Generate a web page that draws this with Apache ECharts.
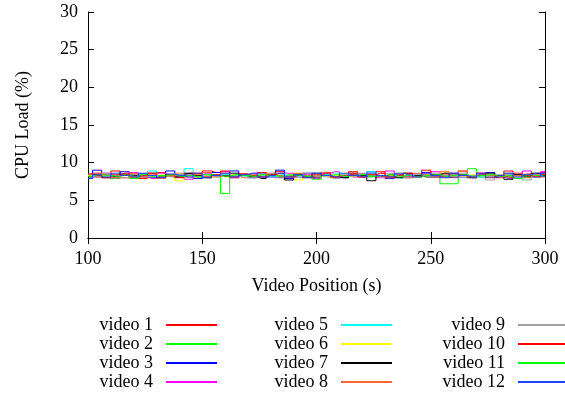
<!DOCTYPE html>
<html>
<head>
<meta charset="utf-8">
<script src="https://cdn.jsdelivr.net/npm/echarts@6/dist/echarts.min.js"></script>
<style>
  html, body { margin: 0; padding: 0; background: #fff; }
  #chart { width: 565px; height: 398px; }
</style>
</head>
<body>
<div id="chart"></div>
<script>
// Playback position (s) of each CPU sample
const positions = [100,104,108,112,116,120,124,128,132,136,140,144,148,152,156,160,164,168,172,176,
  180,184,188,192,196,200,204,208,212,216,220,224,228,232,236,240,244,248,252,256,
  260,264,268,272,276,280,284,288,292,296,300];

// CPU load (%) per video
const video1 = [8.2,8.6,8.3,8.9,8.0,8.5,7.9,8.3,8.7,8.2, 8.4,8.6,8.1,8.9,8.7,8.3,8.0,8.5,8.2,8.7,
  8.3,8.8,8.1,8.5,8.3,8.0,8.7,8.3,8.1,8.8, 8.5,8.2,8.8,8.1,8.5,8.0,8.4,8.7,8.1,8.5,
  8.3,8.9,8.1,8.5,8.3,8.0,8.9,8.3,8.5,8.2, 8.7];
const video2 = [8.3,8.1,8.2,7.9,8.4,8.2,8.3,8.0,8.2,8.4, 8.1,8.3,8.2,8.0,8.3,5.9,8.2,8.4,8.1,8.3,
  8.2,8.0,8.3,8.5,8.2,8.1,8.4,8.0,8.3,8.2, 8.4,8.1,8.3,8.2,8.0,8.3,8.2,8.4,8.1,7.2,
  7.2,8.3,9.2,8.1,8.4,8.2,8.0,8.3,8.2,8.4, 8.3];
const video3 = [7.9,9.0,8.4,8.1,8.8,8.0,8.5,8.1,8.3,8.9, 8.1,8.5,7.9,8.3,8.7,8.2,8.9,8.4,8.0,8.5,
  8.1,9.0,7.9,8.3,8.6,8.1,8.7,8.3,8.0,8.5, 8.1,8.8,8.3,7.9,8.5,8.2,8.3,8.7,8.1,8.3,
  8.6,8.1,8.0,8.4,8.7,8.1,8.5,7.9,8.4,8.1, 8.6];
const video4 = [8.4,8.1,8.6,8.0,8.3,8.7,8.1,7.9,8.6,8.3, 8.1,7.8,8.4,8.6,8.2,8.8,8.0,8.4,8.6,8.1,
  8.3,8.0,8.6,8.1,8.4,7.9,8.6,8.8,8.3,8.1, 8.5,8.3,8.0,8.9,8.3,8.1,8.5,8.3,8.8,8.1,
  8.0,8.4,8.2,8.6,8.3,8.1,7.9,8.4,8.9,8.5, 8.8];
const video5 = [8.4,8.3,8.2,8.4,8.3,8.1,8.3,8.9,8.2,8.3, 8.4,9.2,8.2,8.3,8.1,8.4,8.3,8.2,8.5,8.3,
  8.2,8.4,8.3,8.1,8.3,8.2,8.4,8.6,8.2,8.3, 8.4,8.8,8.3,8.2,8.0,8.3,8.4,8.2,8.3,8.1,
  8.4,8.3,8.2,8.0,8.4,8.3,8.2,8.4,8.3,8.1, 8.3];
const video6 = [8.3,8.4,8.2,8.3,8.4,8.1,8.3,8.2,8.4,8.3, 7.6,8.3,8.4,8.2,8.3,8.1,8.4,8.3,8.2,8.4,
  8.3,8.2,8.4,7.7,8.3,8.4,8.2,8.3,8.5,8.2, 8.3,8.4,8.2,8.3,8.6,8.4,8.2,8.3,8.4,8.8,
  8.3,8.2,8.4,8.3,8.2,8.4,8.3,8.2,8.4,8.3, 8.2];
const video7 = [8.1,8.4,8.0,8.2,8.5,8.3,8.1,8.6,8.0,8.4, 8.1,8.6,8.3,8.0,8.4,8.2,8.6,8.3,8.1,7.9,
  8.4,8.2,7.7,8.4,8.1,8.6,8.3,8.1,8.0,8.6, 8.3,7.6,8.2,8.4,8.0,8.6,8.3,8.1,8.4,8.6,
  8.1,8.4,8.0,8.3,8.6,8.2,7.8,8.4,8.1,8.6, 8.3];
const video8 = [8.5,8.1,8.4,8.0,8.3,8.6,8.1,8.4,7.9,8.3, 8.6,8.1,8.4,8.7,8.1,8.6,8.2,8.0,8.4,8.1,
  8.6,8.3,8.1,8.6,8.3,8.1,8.7,8.0,8.3,8.6, 8.1,8.4,8.6,8.0,8.3,8.1,8.6,8.4,8.1,8.8,
  8.3,8.8,8.1,8.5,8.3,8.1,8.6,8.3,8.0,8.4, 8.1];
const video9 = [8.4,8.1,8.6,8.3,8.0,8.4,8.1,8.6,8.3,8.1, 8.4,8.0,8.6,8.2,8.4,8.6,8.1,8.3,8.0,8.4,
  8.6,8.1,8.3,8.0,8.6,8.3,8.1,7.9,8.4,8.2, 8.6,8.3,8.1,8.6,8.3,8.0,8.4,8.2,8.6,8.3,
  8.1,8.6,8.3,8.1,7.7,8.4,8.6,8.1,7.7,8.3, 8.5];
const video10 = [8.5,8.3,8.0,8.4,8.6,8.1,8.3,8.6,8.1,8.4, 8.0,8.3,8.6,8.1,8.4,8.9,8.1,8.5,8.3,8.1,
  8.4,8.6,8.1,8.3,8.0,8.4,8.6,8.1,8.3,8.5, 8.1,8.4,8.6,8.1,8.3,8.6,8.1,9.0,8.3,8.1,
  8.5,8.3,8.1,8.6,8.0,8.3,8.1,8.6,8.3,8.1, 8.4];
const video11 = [8.2,8.4,8.3,8.2,8.3,7.9,8.4,8.2,8.3,8.4, 8.2,8.3,8.1,8.4,8.3,8.2,8.4,8.3,8.2,8.4,
  8.3,8.2,8.4,8.3,8.2,7.8,8.3,8.4,8.2,8.3, 8.4,8.2,8.3,8.4,8.2,8.3,8.1,8.3,8.4,8.2,
  8.3,8.4,8.2,8.3,8.4,8.2,8.3,7.9,8.4,8.3, 8.2];
const video12 = [7.9,8.4,8.1,8.6,8.3,8.1,8.6,8.3,8.0,8.5, 8.3,8.1,8.6,8.0,8.3,8.6,8.1,8.4,8.6,8.1,
  8.3,8.6,8.1,8.4,8.0,8.6,8.3,8.1,8.6,8.3, 8.1,8.6,8.3,8.1,8.6,8.4,8.1,8.6,8.3,8.0,
  8.6,8.3,8.1,8.6,8.1,8.3,8.6,8.1,8.4,8.6, 8.2];

const seriesNames = ['video 1','video 2','video 3','video 4','video 5','video 6',
  'video 7','video 8','video 9','video 10','video 11','video 12'];
const seriesValues = [video1, video2, video3, video4, video5, video6,
  video7, video8, video9, video10, video11, video12];
const seriesColors = ['#ff0000','#00ff00','#0000ff','#ff00ff','#00ffff','#ffff00',
  '#000000','#ff6633','#a0a0a0','#ff0000','#00ff00','#2040ff'];

const xTicks = { min: 100, max: 300, interval: 50 };
const yTicks = { min: 0, max: 30, interval: 5 };

const FONT = 'Liberation Serif';

const chart = echarts.init(document.getElementById('chart'), null, { renderer: 'canvas' });

const series = seriesNames.map((name, i) => ({
  name: name,
  type: 'line',
  step: 'middle',
  showSymbol: false,
  symbol: 'none',
  animation: false,
  color: seriesColors[i],
  itemStyle: { color: seriesColors[i] },
  lineStyle: { width: 1, color: seriesColors[i] },
  data: positions.map((p, k) => [p, seriesValues[i][k]])
}));

function legendBlock(names, right) {
  return {
    orient: 'vertical',
    right: right,
    top: 316,
    padding: 0,
    align: 'right',
    itemWidth: 51,
    itemHeight: 2,
    itemGap: 1,
    icon: 'rect',
    selectedMode: false,
    itemStyle: { borderWidth: 0 },
    textStyle: { fontFamily: FONT, fontSize: 18, color: '#000', lineHeight: 18, padding: [0, 8, 0, 0] },
    data: names
  };
}

const axisText = { fontFamily: FONT, fontSize: 18, color: '#000' };
const lineBlack = { show: true, lineStyle: { color: '#000', width: 1 } };
const tickIn = { show: true, inside: true, length: 6, lineStyle: { color: '#000', width: 1 } };

chart.setOption({
  backgroundColor: '#fff',
  animation: false,
  grid: { left: 88, right: 20, top: 12, bottom: 160 },
  legend: [
    legendBlock(seriesNames.slice(0, 4), 348),
    legendBlock(seriesNames.slice(4, 8), 173),
    legendBlock(seriesNames.slice(8, 12), -4)
  ],
  xAxis: [
    {
      type: 'value', position: 'bottom', min: xTicks.min, max: xTicks.max, interval: xTicks.interval,
      name: 'Video Position (s)', nameLocation: 'middle', nameGap: 39,
      nameTextStyle: axisText,
      axisLine: lineBlack, axisTick: tickIn,
      axisLabel: Object.assign({ margin: 12 }, axisText),
      splitLine: { show: false }
    },
    {
      type: 'value', position: 'top', min: xTicks.min, max: xTicks.max, interval: xTicks.interval,
      axisLine: lineBlack, axisTick: tickIn, axisLabel: { show: false }, splitLine: { show: false }
    }
  ],
  yAxis: [
    {
      type: 'value', position: 'left', min: yTicks.min, max: yTicks.max, interval: yTicks.interval,
      name: 'CPU Load (%)', nameLocation: 'middle', nameGap: 56, nameRotate: 90,
      nameTextStyle: axisText,
      axisLine: lineBlack, axisTick: tickIn,
      axisLabel: Object.assign({ margin: 10 }, axisText),
      splitLine: { show: false }
    },
    {
      type: 'value', position: 'right', min: yTicks.min, max: yTicks.max, interval: yTicks.interval,
      axisLine: lineBlack, axisTick: tickIn, axisLabel: { show: false }, splitLine: { show: false }
    }
  ],
  series: series
});
</script>
</body>
</html>
